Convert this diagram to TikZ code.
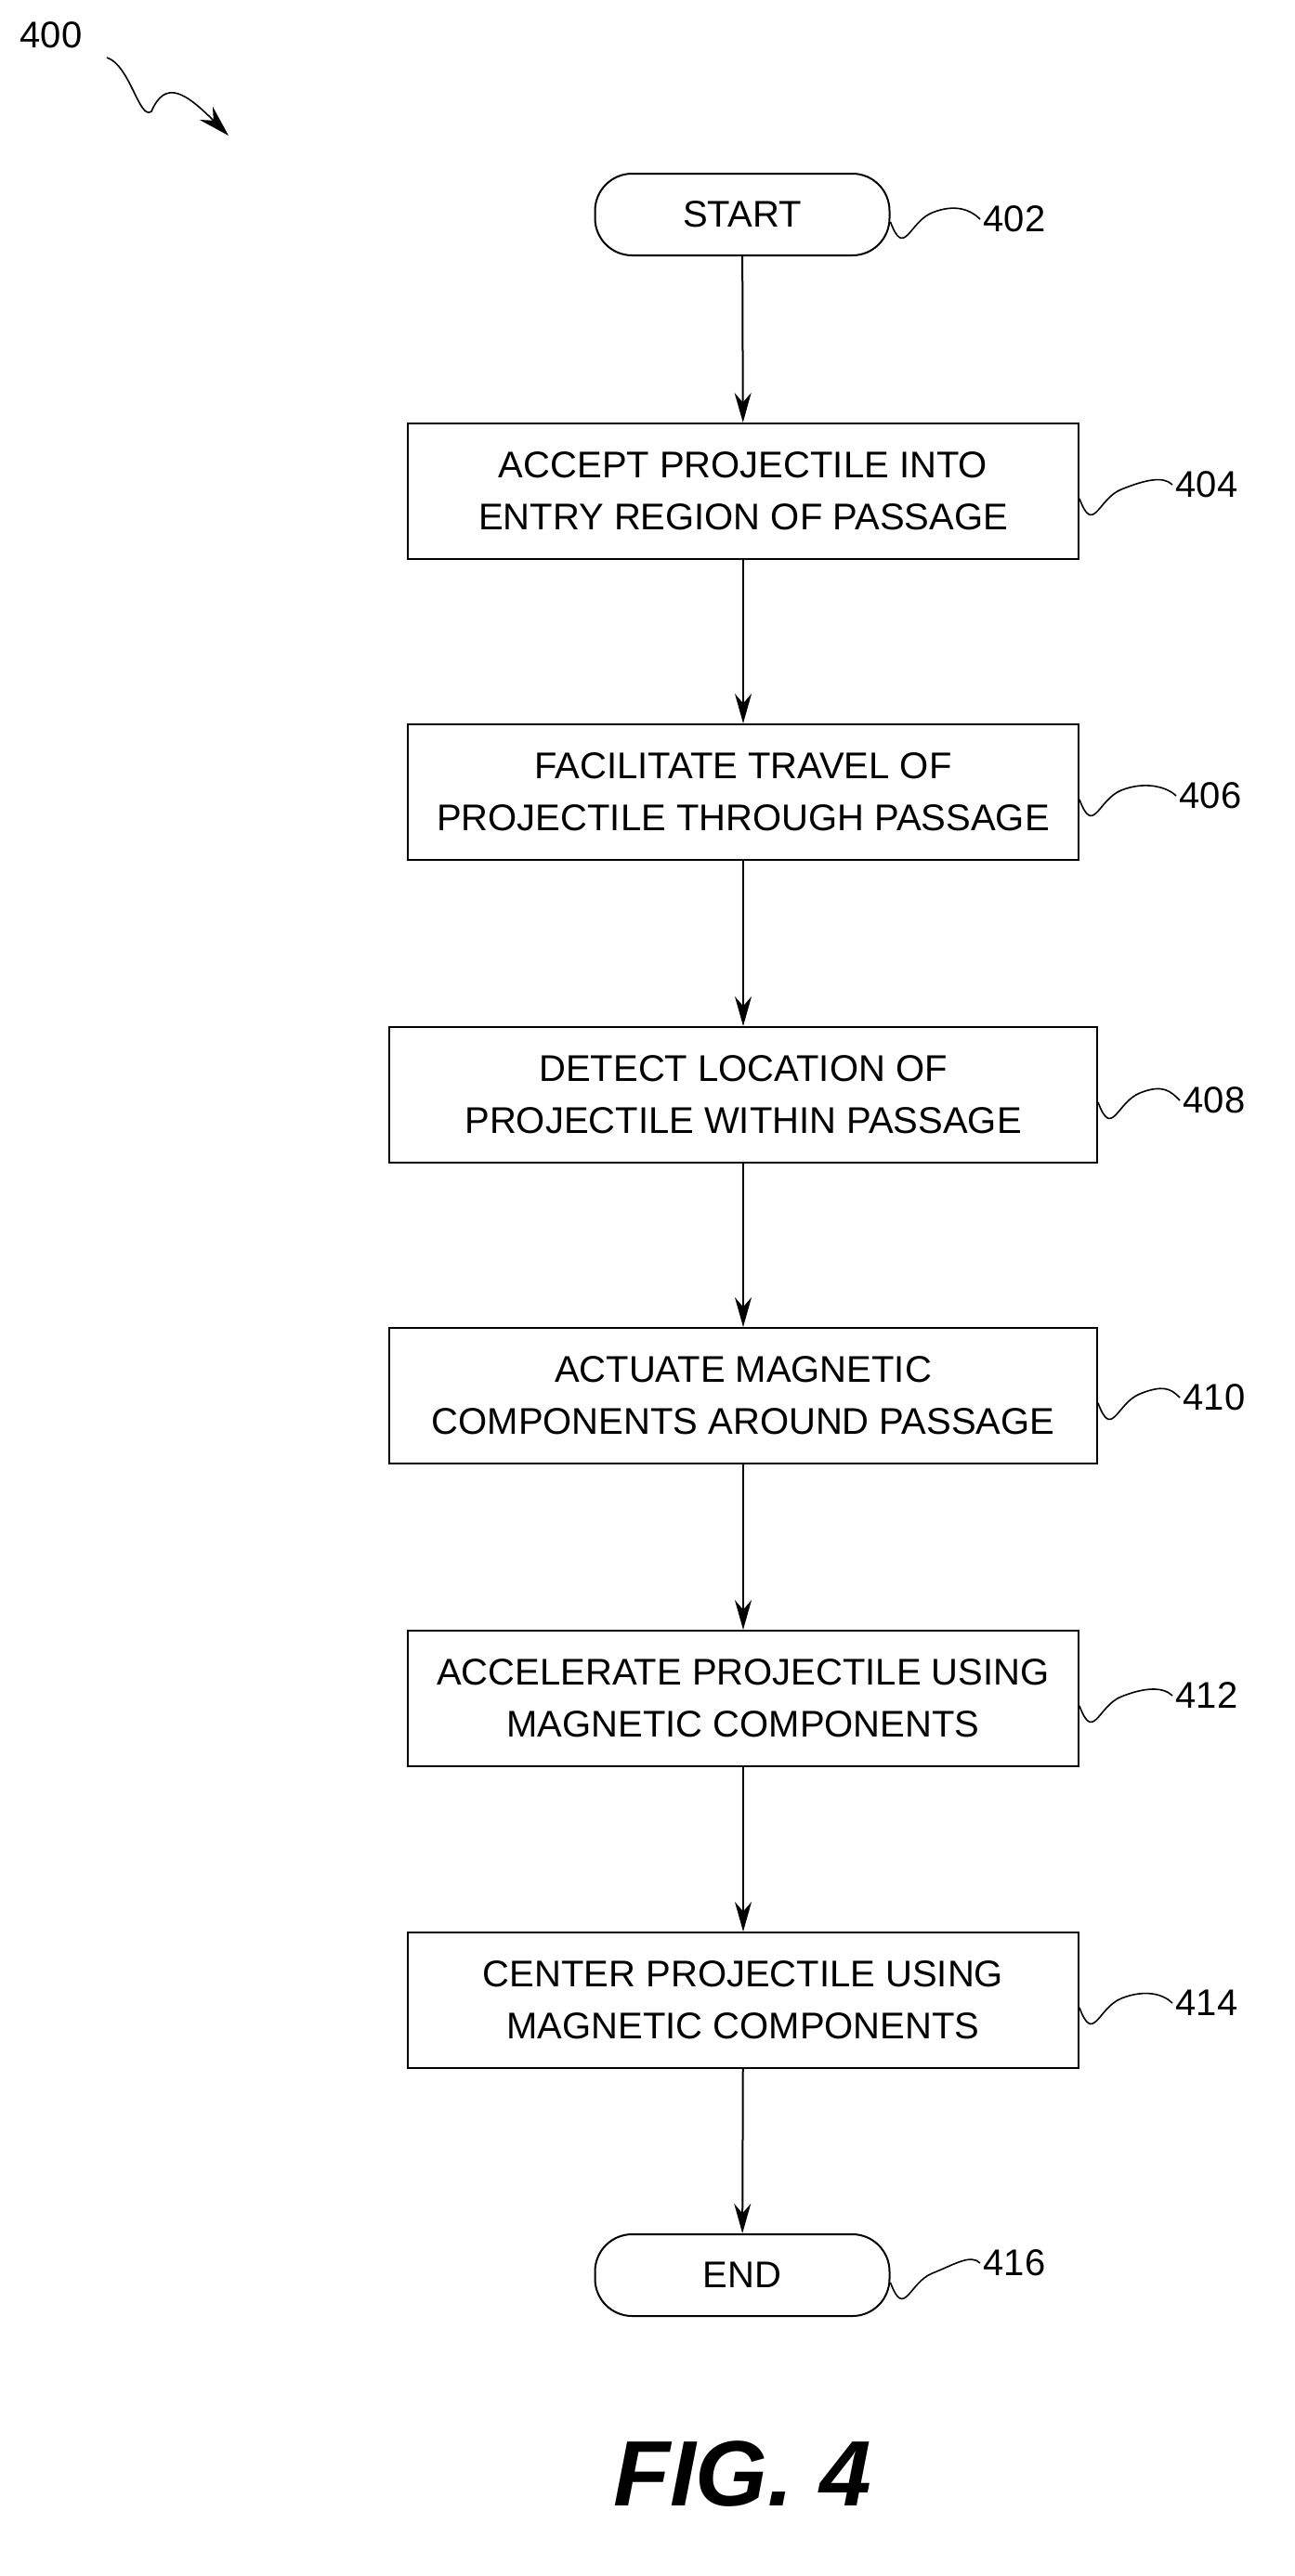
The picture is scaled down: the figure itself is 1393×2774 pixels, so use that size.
\documentclass[tikz,border=0pt]{standalone}
\usepackage{fontspec}
\setmainfont{Liberation Sans}
\usetikzlibrary{arrows.meta}
\begin{document}
\begin{tikzpicture}[x=1pt,y=-1pt,
  box/.style={draw,line width=2pt,minimum width=722pt,minimum height=146pt,align=center,inner sep=0pt,font=\fontsize{40}{56}\selectfont},
  term/.style={draw,line width=2pt,rounded corners=40pt,minimum width=317pt,minimum height=88pt,font=\fontsize{40}{48}\selectfont},
  lab/.style={font=\fontsize{40}{48}\selectfont},
  arr/.style={line width=2pt,-{Stealth[length=32pt,width=18pt]}},
  sq/.style={line width=1.6pt}]
\useasboundingbox (0,0) rectangle (1393,2774);
\node[term] (s) at (799,231) {START};
\node[box] (b4) at (800,529) {ACCEPT PROJECTILE INTO\\ENTRY REGION OF PASSAGE};
\node[box] (b6) at (800,853) {FACILITATE TRAVEL OF\\PROJECTILE THROUGH PASSAGE};
\node[box,minimum width=762pt] (b8) at (800,1179) {DETECT LOCATION OF\\PROJECTILE WITHIN PASSAGE};
\node[box,minimum width=762pt] (b10) at (800,1503) {ACTUATE MAGNETIC\\COMPONENTS AROUND PASSAGE};
\node[box] (b12) at (800,1829) {ACCELERATE PROJECTILE USING\\MAGNETIC COMPONENTS};
\node[box] (b14) at (800,2154) {CENTER PROJECTILE USING\\MAGNETIC COMPONENTS};
\node[term] (e) at (799,2450) {END};
\draw[arr] (s) -- (b4);
\draw[arr] (b4) -- (b6);
\draw[arr] (b6) -- (b8);
\draw[arr] (b8) -- (b10);
\draw[arr] (b10) -- (b12);
\draw[arr] (b12) -- (b14);
\draw[arr] (b14) -- (e);
\node[lab,anchor=west] (l400) at (18,38) {400};
\node[lab,anchor=west] (l402) at (1055,236) {402};
\node[lab,anchor=west] (l404) at (1262,522) {404};
\node[lab,anchor=west] (l406) at (1266,857) {406};
\node[lab,anchor=west] (l408) at (1270,1185) {408};
\node[lab,anchor=west] (l410) at (1270,1505) {410};
\node[lab,anchor=west] (l412) at (1262,1826) {412};
\node[lab,anchor=west] (l414) at (1262,2157) {414};
\node[lab,anchor=west] (l416) at (1055,2437) {416};
\node[font=\fontsize{100}{110}\selectfont\bfseries\itshape] (fig) at (799,2664) {FIG. 4};
\foreach \n/\y in {s/252,b4/545,b6/862,b8/1190,b10/1512,b12/1832,b14/2163,e/2457}{
  \coordinate (q\n) at ([yshift=14pt]\n.east);
}
\foreach \a/\l in {s/l402,b4/l404,b6/l406,b8/l408,b10/l410,b12/l412,b14/l414,e/l416}{
  \draw[sq] (\a.east) ++(0,8) .. controls +(15,40) and +(-25,10) .. ++(45,-10) .. controls +(25,-10) and +(-10,-10) .. (\l.west);
}
\coordinate (a0) at (115,62);
\coordinate (a1) at (246,146);
\draw[line width=1.6pt,-{Stealth[length=34pt,width=20pt]}] (a0) .. controls (140,70) and (150,130) .. (163,120) .. controls (178,85) and (200,100) .. (a1);
\end{tikzpicture}
\end{document}
